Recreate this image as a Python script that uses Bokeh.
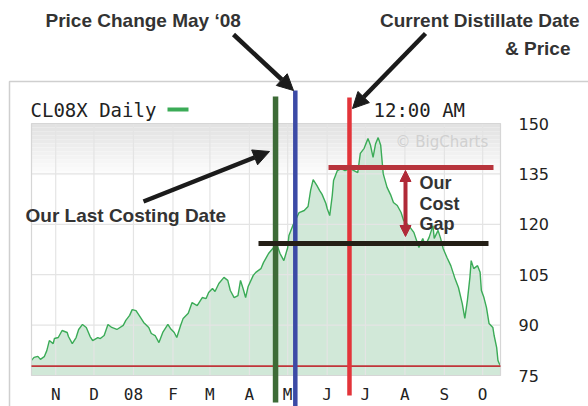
from bokeh.plotting import figure
from bokeh.models import Range1d, FixedTicker, Label, Arrow, NormalHead
from bokeh.embed import file_html
from bokeh.resources import INLINE

# ---------------- data ----------------
# days counted from 1 Nov 2007, CL08X daily close (USD)
days = [-19, -17, -14, -12, -9, -7, -5, -2, -1, 2, 5, 9, 10, 13, 16, 18, 21, 24, 27, 29,
        33, 35, 38, 41, 44, 48, 53, 55, 58, 60, 63, 67, 69, 73, 75, 78, 81, 84, 88, 90,
        93, 95, 98, 100, 104, 107, 111, 115, 118, 120, 123, 125, 128, 132, 135, 137, 140, 143, 145, 147,
        149, 151, 155, 157, 161, 163, 167, 171, 174, 176, 179, 182, 183, 186, 191, 195, 198, 200, 202, 205,
        207, 209, 212, 213, 215, 217, 218, 221, 224, 227, 231, 237, 239, 242, 245, 247, 249, 251, 253, 255,
        257, 260, 263, 265, 268, 271, 273, 277, 281, 285, 288, 290, 293, 296, 297, 300, 302, 304, 307, 310,
        313, 316, 319, 321, 323, 325, 326, 328, 331, 333, 334, 336, 338, 340, 343, 344, 346, 347, 348, 349]
prices = [79.5, 80.4, 80.7, 79.8, 80.6, 82.4, 85.4, 84.5, 86.0, 86.3, 88.4, 87.8, 86.6, 84.5, 86.3, 88.7, 90.2, 89.3, 86.6, 85.4,
          86.3, 86.0, 86.9, 90.2, 89.3, 88.7, 89.9, 91.4, 92.9, 94.6, 94.3, 92.0, 90.8, 89.3, 87.5, 86.9, 84.8, 87.8, 90.2, 89.0,
          87.8, 86.3, 89.9, 92.0, 93.5, 96.7, 95.8, 98.2, 97.9, 99.7, 100.9, 100.0, 102.4, 104.2, 103.3, 100.3, 98.2, 98.8, 103.3, 100.9,
          98.2, 101.5, 104.8, 105.7, 106.8, 108.6, 111.3, 113.1, 113.5, 111.3, 109.2, 113.0, 116.7, 119.6, 123.5, 124.1, 125.3, 130.1, 133.3, 131.5,
          130.1, 128.9, 126.2, 124.7, 122.6, 128.6, 133.0, 136.0, 136.6, 136.0, 136.6, 135.4, 141.1, 142.6, 145.5, 143.5, 139.9, 144.0, 145.8, 143.5,
          135.0, 131.0, 128.6, 126.5, 125.6, 123.5, 121.1, 119.6, 117.6, 113.1, 115.8, 113.7, 116.1, 119.6, 115.8, 118.2, 115.8, 112.8, 110.1, 107.7,
          104.2, 101.2, 96.4, 92.0, 97.3, 104.2, 109.2, 106.8, 107.7, 105.7, 100.3, 98.2, 95.2, 90.5, 89.3, 86.9, 83.3, 79.5, 78.6, 77.8]

month_days = [0, 30, 61, 92, 121, 152, 182, 213, 243, 274, 305, 335]
month_labels = ["N", "D", "08", "F", "M", "A", "M", "J", "J", "A", "S", "O"]
price_ticks = [75, 90, 105, 120, 135, 150]

last_costing_day = 172.5   # green marker
price_change_day = 188.0   # blue marker (May '08)
current_day = 230.5        # red marker
current_price = 136.9      # dark red level
costing_price = 114.3      # black level
last_price = prices[-1]

# ---------------- layout helpers (page pixels -> data) ----------------
PX_L, PX_R, PX_T, PX_B = 31.0, 500.0, 123.0, 375.0
W, H, M = 588, 406, 0
X0, X1 = days[0], days[-1]
Y0, Y1 = price_ticks[0], price_ticks[-1]
kx = (PX_R - PX_L) / (X1 - X0)
ky = (PX_B - PX_T) / (Y1 - Y0)


def dx(px):
    return X0 + (px - PX_L) / kx


def dy(py):
    return Y1 - (py - PX_T) / ky


p = figure(width=W, height=H, output_backend="svg", toolbar_location=None,
           x_range=Range1d(dx(M), dx(M + W)), y_range=Range1d(dy(M + H), dy(M)),
           y_axis_location="right", min_border=0)
p.outline_line_color = None
p.grid.visible = False
p.background_fill_color = "white"
p.border_fill_color = "white"

# outer frame
p.line([dx(9), dx(9), dx(620)], [dy(430), dy(81), dy(81)], line_color="#cfcfcf", line_width=1.5)

# grey gradient band at top of the plot area
n = 14
for i in range(n):
    t0 = PX_T + i * 4
    g = int(0xe2 + (0xff - 0xe2) * i / (n - 1))
    p.quad(left=dx(PX_L), right=dx(PX_R), top=dy(t0), bottom=dy(t0 + 4),
           fill_color="#%02x%02x%02x" % (g, g, g), line_color=None)

# area + line
p.varea(x=days, y1=[Y0] * len(days), y2=prices, fill_color="#d1e8d8")

# grid
p.segment(x0=month_days, x1=month_days, y0=[Y0] * len(month_days), y1=[Y1] * len(month_days),
          line_color="#e4e4e4", line_width=1.2)
p.segment(x0=[X0] * len(price_ticks), x1=[X1] * len(price_ticks), y0=price_ticks, y1=price_ticks,
          line_color="#e4e4e4", line_width=1.2)

p.line(days, prices, line_color="#3bab57", line_width=1.4)

# plot area border
p.quad(left=dx(PX_L), right=dx(PX_R), top=Y1, bottom=Y0, fill_color=None, line_color="#d6d6d6", line_width=1.2)

# last price line
p.segment(x0=[X0], x1=[X1], y0=[last_price], y1=[last_price], line_color="#c0353a", line_width=1.6)

# marker lines
p.segment(x0=[last_costing_day], x1=[last_costing_day], y0=[dy(96)], y1=[dy(402)], line_color="#3d6b37", line_width=5.5)
p.segment(x0=[price_change_day], x1=[price_change_day], y0=[dy(90)], y1=[dy(410)], line_color="#3c4aa6", line_width=4.5)
p.segment(x0=[current_day], x1=[current_day], y0=[dy(97)], y1=[dy(395)], line_color="#e3343a", line_width=4.5)
p.segment(x0=[dx(328)], x1=[dx(493)], y0=[current_price], y1=[current_price], line_color="#b7343c", line_width=5)
p.segment(x0=[dx(258)], x1=[dx(488)], y0=[costing_price], y1=[costing_price], line_color="#241f16", line_width=5)

# legend key
p.segment(x0=[dx(167)], x1=[dx(188)], y0=[dy(109)], y1=[dy(109)], line_color="#3bab57", line_width=4)

# cost gap double arrow
p.add_layout(Arrow(start=NormalHead(size=11, fill_color="#b02a38", line_color="#b02a38"),
                   end=NormalHead(size=11, fill_color="#b02a38", line_color="#b02a38"),
                   x_start=dx(405), y_start=dy(170), x_end=dx(405), y_end=dy(236),
                   line_color="#b02a38", line_width=4))

# black pointer arrows
for (xs, ys, xe, ye) in [(233, 34, 293, 90), (425, 33, 352, 108), (143, 201, 269, 151)]:
    p.add_layout(Arrow(end=NormalHead(size=16, fill_color="#1b1b1b", line_color="#1b1b1b", line_width=1),
                       x_start=dx(xs), y_start=dy(ys), x_end=dx(xe), y_end=dy(ye),
                       line_color="#1b1b1b", line_width=4.5))


def lab(text, x, y, size, align="left", font="Liberation Sans", style="bold", color="#333333"):
    p.add_layout(Label(x=dx(x), y=dy(y), text=text, text_font=font, text_font_size=size,
                       text_font_style=style, text_color=color, text_align=align,
                       text_baseline="middle"))


lab("Price Change May \u201808", 45, 20, "19px")
lab("Current Distillate Date", 579, 20, "19px", align="right")
lab("& Price", 570, 48, "19px", align="right")
lab("Our Last Costing Date", 25, 215, "19px")
lab("Our", 419, 182, "18px")
lab("Cost", 419, 203, "18px")
lab("Gap", 419, 223, "18px")
lab("CL08X Daily", 30, 109, "19px", font="DejaVu Sans Mono", style="normal", color="#222222")
lab("12:00 AM", 373, 109, "19px", font="DejaVu Sans Mono", style="normal", color="#222222")
lab("\u00a9 BigCharts", 395, 141, "15px", font="DejaVu Sans", style="normal", color="#d0d0d0")

# axes
xa = p.xaxis[0]
xa.fixed_location = Y0
xa.ticker = FixedTicker(ticks=month_days)
xa.major_label_overrides = {d: l for d, l in zip(month_days, month_labels)}
xa.axis_line_color = None
xa.major_tick_line_color = None
xa.minor_tick_line_color = None
xa.major_tick_out = 0
xa.major_tick_in = 0
xa.major_label_standoff = 9
xa.major_label_text_font = "DejaVu Sans Mono"
xa.major_label_text_font_size = "16px"
xa.major_label_text_color = "#222222"

ya = p.yaxis[0]
ya.fixed_location = X1
ya.ticker = FixedTicker(ticks=price_ticks)
ya.axis_line_color = None
ya.major_tick_line_color = None
ya.minor_tick_line_color = None
ya.major_tick_out = 0
ya.major_tick_in = 0
ya.major_label_standoff = 18
ya.major_label_text_font = "DejaVu Sans"
ya.major_label_text_font_size = "16px"
ya.major_label_text_color = "#222222"

open("out.html", "w").write(file_html(p, INLINE))
